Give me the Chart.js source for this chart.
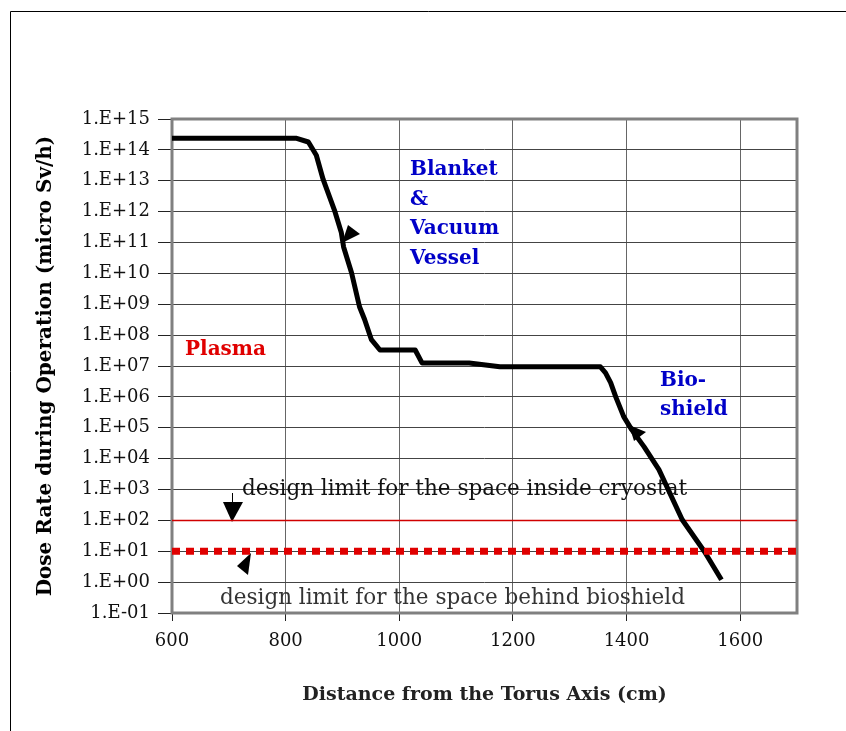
<!DOCTYPE html>
<html>
<head>
<meta charset="utf-8">
<script src="https://cdn.jsdelivr.net/npm/chart.js@4"></script>
<style>html,body{margin:0;padding:0;background:#fff}</style>
</head>
<body>
<canvas id="doseChart" width="846" height="731"></canvas>
<script>
// distance from torus axis (cm) and dose rate (micro Sv/h)
const distance = [600, 818, 840, 854, 866, 886, 898, 902, 916, 930, 939, 951, 966, 1028, 1040, 1123, 1177, 1354, 1363, 1372, 1381, 1395, 1409, 1431, 1457, 1498, 1537, 1567];
const doseRate = [2.4e14, 2.4e14, 1.8e14, 6.7e13, 1.1e13, 1.1e12, 2.1e11, 7.2e10, 1.05e10, 8.3e8, 3.2e8, 7.1e7, 3.3e7, 3.3e7, 1.26e7, 1.26e7, 9.4e6, 9.4e6, 6e6, 2.9e6, 1e6, 2.3e5, 8.7e4, 2.4e4, 4.4e3, 1.05e2, 9.8, 1.2];

// design limits
const limitX = [600, 1700];
const cryostatLimit = [100, 100];
const bioshieldLimit = [10, 10];

const xTickValues = [600, 800, 1000, 1200, 1400, 1600];
const xTickLabels = ['600', '800', '1000', '1200', '1400', '1600'];
const yTickValues = [1e-1, 1e0, 1e1, 1e2, 1e3, 1e4, 1e5, 1e6, 1e7, 1e8, 1e9, 1e10, 1e11, 1e12, 1e13, 1e14, 1e15];
const yTickLabels = ['1.E-01', '1.E+00', '1.E+01', '1.E+02', '1.E+03', '1.E+04', '1.E+05', '1.E+06', '1.E+07',
  '1.E+08', '1.E+09', '1.E+10', '1.E+11', '1.E+12', '1.E+13', '1.E+14', '1.E+15'];

const toPoints = (xs, ys) => xs.map((x, i) => ({x: x, y: ys[i]}));

const serif = '"DejaVu Serif", serif';

const notes = [
  {text: 'Plasma', x: 185, y: 350, color: '#e00000', font: 'bold 20px ' + serif},
  {text: 'Blanket', x: 410, y: 170, color: '#0000c8', font: 'bold 20px ' + serif},
  {text: '&', x: 410, y: 200, color: '#0000c8', font: 'bold 20px ' + serif},
  {text: 'Vacuum', x: 410, y: 229, color: '#0000c8', font: 'bold 20px ' + serif},
  {text: 'Vessel', x: 410, y: 259, color: '#0000c8', font: 'bold 20px ' + serif},
  {text: 'Bio-', x: 660, y: 381, color: '#0000c8', font: 'bold 20px ' + serif},
  {text: 'shield', x: 660, y: 410, color: '#0000c8', font: 'bold 20px ' + serif},
  {text: 'design limit for the space inside cryostat', x: 242, y: 489, color: '#111', font: '21.5px ' + serif},
  {text: 'design limit for the space behind bioshield', x: 220, y: 598, color: '#333', font: '21.5px ' + serif}
];

const arrowHeads = [
  [[223, 502], [243, 502], [232, 522]],
  [[237, 566], [251, 553], [248, 575]],
  [[348, 225], [360, 234], [342, 243]],
  [[629, 425], [646, 432], [634, 441]]
];

const framePlugin = {
  id: 'frame',
  beforeDraw(chart) {
    const c = chart.ctx;
    c.save();
    c.fillStyle = '#fff';
    c.fillRect(0, 0, chart.width, chart.height);
    c.strokeStyle = '#000';
    c.lineWidth = 1;
    c.beginPath();
    c.moveTo(10.5, chart.height);
    c.lineTo(10.5, 11.5);
    c.lineTo(chart.width, 11.5);
    c.stroke();
    c.restore();
  },
  beforeDatasetsDraw(chart) {
    const c = chart.ctx;
    const a = chart.chartArea;
    c.save();
    c.strokeStyle = '#808080';
    c.lineWidth = 3;
    c.strokeRect(a.left, a.top, a.right - a.left, a.bottom - a.top);

    c.textBaseline = 'middle';
    c.textAlign = 'left';
    notes.forEach(n => {
      c.font = n.font;
      c.fillStyle = n.color;
      c.fillText(n.text, n.x, n.y);
    });

    // little leader line above the first arrow
    c.strokeStyle = '#000';
    c.lineWidth = 1;
    c.beginPath();
    c.moveTo(232.5, 493);
    c.lineTo(232.5, 504);
    c.stroke();

    c.fillStyle = '#000';
    arrowHeads.forEach(t => {
      c.beginPath();
      c.moveTo(t[0][0], t[0][1]);
      c.lineTo(t[1][0], t[1][1]);
      c.lineTo(t[2][0], t[2][1]);
      c.closePath();
      c.fill();
    });
    c.restore();
  }
};

new Chart(document.getElementById('doseChart'), {
  type: 'line',
  data: {
    datasets: [
      {
        data: toPoints(limitX, bioshieldLimit),
        borderColor: '#e00000',
        borderWidth: 7,
        borderDash: [8, 6],
        pointRadius: 0,
        order: 0
      },
      {
        data: toPoints(distance, doseRate),
        borderColor: '#000',
        borderWidth: 5,
        borderJoinStyle: 'round',
        pointRadius: 0,
        tension: 0,
        order: 1
      },
      {
        data: toPoints(limitX, cryostatLimit),
        borderColor: '#d00000',
        borderWidth: 1.5,
        pointRadius: 0,
        order: 2
      }
    ]
  },
  options: {
    responsive: false,
    animation: false,
    layout: {padding: {top: 119, right: 49, bottom: 0, left: 0}},
    plugins: {legend: {display: false}, tooltip: {enabled: false}},
    scales: {
      x: {
        type: 'linear',
        min: 600,
        max: 1700,
        afterBuildTicks: s => { s.ticks = xTickValues.map(v => ({value: v})); },
        afterFit: s => { s.height = 118; },
        border: {display: false},
        grid: {color: '#666', lineWidth: 1, tickLength: 8, tickColor: '#222'},
        ticks: {
          color: '#111',
          padding: 10,
          maxRotation: 0,
          font: {family: serif, size: 18},
          callback: (v, i) => xTickLabels[i]
        },
        title: {
          display: true,
          text: 'Distance from the Torus Axis (cm)',
          color: '#222',
          font: {family: serif, size: 19, weight: 'bold'},
          padding: {top: 0, bottom: 25}
        }
      },
      y: {
        type: 'logarithmic',
        min: 1e-1,
        max: 1e15,
        afterBuildTicks: s => { s.ticks = yTickValues.map(v => ({value: v})); },
        afterFit: s => { s.width = 172; },
        border: {display: false},
        grid: {color: '#444', lineWidth: 1, tickLength: 14, tickColor: '#222'},
        ticks: {
          color: '#111',
          padding: 8,
          autoSkip: false,
          font: {family: serif, size: 18},
          callback: (v, i) => yTickLabels[i]
        },
        title: {
          display: true,
          text: 'Dose Rate during Operation (micro Sv/h)',
          color: '#000',
          font: {family: serif, size: 20, weight: 'bold'},
          padding: {top: 34, bottom: 0}
        }
      }
    }
  },
  plugins: [framePlugin]
});
</script>
</body>
</html>
